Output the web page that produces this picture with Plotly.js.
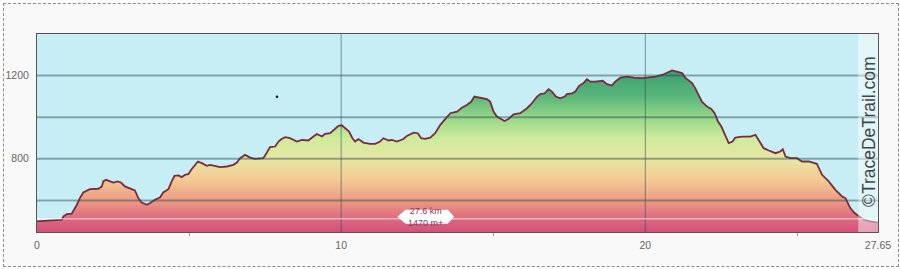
<!DOCTYPE html>
<html><head><meta charset="utf-8">
<script src="https://cdn.plot.ly/plotly-3.0.1.min.js"></script>
<style>
html,body{margin:0;padding:0;background:#fff;}
#frame{position:absolute;left:3px;top:3px;width:896px;height:264px;border:1px dashed #8a8a8a;background:#f9f9f9;box-sizing:border-box;}
#chart{position:absolute;left:0;top:0;width:900px;height:269px;}
</style></head><body>
<div id="frame"></div><div id="chart"></div>
<script>
const distanceKm = [0,0.43,0.82,0.87,0.98,1.14,1.25,1.31,1.41,1.52,1.74,2.02,2.13,2.18,2.27,2.40,2.51,2.65,2.76,2.89,3.06,3.22,3.33,3.44,3.61,3.72,3.88,4.05,4.15,4.32,4.43,4.52,4.65,4.76,4.87,4.98,5.07,5.20,5.29,5.42,5.58,5.69,5.86,6.02,6.24,6.46,6.57,6.68,6.84,7.01,7.17,7.34,7.44,7.56,7.66,7.83,7.94,8.03,8.16,8.32,8.54,8.71,8.92,9.09,9.20,9.37,9.47,9.64,9.78,9.91,10.02,10.15,10.26,10.37,10.46,10.57,10.73,10.95,11.12,11.28,11.39,11.56,11.67,11.83,12.05,12.16,12.38,12.52,12.63,12.76,12.93,13.09,13.26,13.42,13.59,13.81,13.97,14.13,14.28,14.38,14.57,14.79,14.90,15.01,15.12,15.26,15.37,15.50,15.67,15.89,16.11,16.27,16.44,16.55,16.69,16.82,16.93,17.06,17.20,17.35,17.42,17.59,17.70,17.83,17.97,18.08,18.19,18.36,18.60,18.74,18.90,19.01,19.18,19.40,19.62,19.89,20.11,20.33,20.55,20.77,20.88,21.04,21.21,21.32,21.42,21.54,21.64,21.75,21.86,22.03,22.17,22.28,22.39,22.50,22.63,22.74,22.87,22.96,23.18,23.45,23.62,23.73,23.89,24.06,24.28,24.44,24.52,24.61,24.77,24.99,25.15,25.37,25.54,25.64,25.81,26.03,26.25,26.47,26.58,26.74,26.88,27.02,27.18,27.40,27.65];
const elevationM = [499,502,507,523,534,536,563,579,611,638,654,656,667,691,699,691,686,691,686,667,659,648,611,590,579,587,603,615,638,654,691,718,720,712,723,727,747,771,787,779,766,771,766,760,763,771,782,803,819,806,800,800,803,830,856,859,883,894,904,899,883,891,888,907,919,907,920,923,939,958,961,947,931,899,883,895,878,872,872,883,899,888,891,883,895,910,926,923,899,896,902,923,963,991,1019,1027,1046,1059,1075,1099,1094,1087,1075,1027,1003,991,982,991,1014,1019,1043,1067,1099,1111,1115,1135,1123,1099,1091,1099,1111,1115,1123,1152,1164,1183,1171,1171,1175,1159,1152,1171,1190,1195,1190,1188,1190,1195,1203,1216,1225,1219,1212,1188,1177,1164,1140,1111,1075,1051,1040,1019,979,955,907,875,883,902,907,907,915,891,851,840,827,835,846,811,803,803,787,787,782,776,723,691,651,619,611,563,539,523,507,499,493];

const xTickVals = [0, 10, 20, 27.65];
const xTickText = ['0', '10', '20', '27.65'];
const xMinorTicks = [5, 15, 25];
const yTickVals = [800, 1200];
const yTickText = ['800', '1200'];
const yGridVals = [600, 800, 1000, 1200];
const xGridVals = [10, 20];
const xRange = [0, 27.65];
const yRange = [448, 1400];
const refLineM = 512;
const fadeStartKm = 27.0;
const summaryText = ['27.6 km', '1470 m+'];
const summaryPos = {km: 12.78, m: 521};
const strayKm = [7.89];
const strayM = [1098];

const gradientScale = [
  [0.00, '#d2527a'],
  [0.08, '#dc6a80'],
  [0.19, '#eb9a84'],
  [0.32, '#f3c992'],
  [0.45, '#e8e6a2'],
  [0.58, '#cdeb9c'],
  [0.71, '#94d688'],
  [0.84, '#58b67a'],
  [1.00, '#3a9e6e']
];

const traces = [
  {
    x: distanceKm, y: elevationM, type: 'scatter', mode: 'lines',
    fill: 'tozeroy',
    fillgradient: {type: 'vertical', colorscale: gradientScale, start: 450, stop: 1225},
    line: {color: '#7a2a3c', width: 1.8},
    hoverinfo: 'skip'
  },
  {
    x: strayKm, y: strayM, type: 'scatter', mode: 'markers',
    marker: {color: '#111', size: 2.5}, hoverinfo: 'skip'
  }
];

const shapes = [];
yGridVals.forEach(v => shapes.push({type: 'line', xref: 'paper', x0: 0, x1: 1, yref: 'y', y0: v, y1: v,
  line: {color: 'rgba(40,70,80,0.45)', width: 2}, layer: 'above'}));
xGridVals.forEach(v => shapes.push({type: 'line', yref: 'paper', y0: 0, y1: 1, xref: 'x', x0: v, x1: v,
  line: {color: 'rgba(40,70,80,0.55)', width: 1}, layer: 'above'}));
shapes.push({type: 'line', xref: 'paper', x0: 0, x1: 1, yref: 'y', y0: refLineM, y1: refLineM,
  line: {color: 'rgba(255,255,255,0.5)', width: 1.5}, layer: 'above'});
shapes.push({type: 'rect', xref: 'x', x0: fadeStartKm, x1: xRange[1], yref: 'paper', y0: 0, y1: 1,
  fillcolor: 'rgba(255,255,255,0.45)', line: {width: 0}, layer: 'above'});
shapes.push({type: 'path', xref: 'x', yref: 'y', xsizemode: 'pixel', ysizemode: 'pixel',
  xanchor: summaryPos.km, yanchor: summaryPos.m,
  path: 'M-28.5,0 L-20,7 L22,7 L28.5,0 L22,-7 L-20,-7 Z',
  fillcolor: '#ffffff', line: {width: 0}, layer: 'above'});

const layout = {
  width: 900, height: 269,
  margin: {l: 37, r: 22, t: 34, b: 37, pad: 0},
  paper_bgcolor: 'rgba(0,0,0,0)',
  plot_bgcolor: '#c8eef5',
  showlegend: false,
  hovermode: false,
  font: {family: 'Liberation Sans, Arial, sans-serif', size: 10.5, color: '#666'},
  xaxis: {
    range: xRange, tickmode: 'array', tickvals: xTickVals, ticktext: xTickText,
    showgrid: false, zeroline: false, showline: true, mirror: true,
    linecolor: '#555', linewidth: 1, ticks: '', ticklabelstandoff: 3,
    minor: {tickmode: 'array', tickvals: xMinorTicks, ticks: 'outside', ticklen: 3, tickcolor: '#999', showgrid: false},
    fixedrange: true
  },
  yaxis: {
    range: yRange, tickmode: 'array', tickvals: yTickVals, ticktext: yTickText,
    showgrid: false, zeroline: false, showline: true, mirror: true,
    linecolor: '#555', linewidth: 1, ticks: '', ticklabelstandoff: 5,
    fixedrange: true
  },
  shapes: shapes,
  annotations: [
    {xref: 'x', yref: 'y', x: summaryPos.km, y: summaryPos.m, text: summaryText.join('<br>'),
     showarrow: false, font: {size: 9, color: '#8b3560', family: 'Liberation Sans, Arial, sans-serif'},
     xanchor: 'center', yanchor: 'middle'},
    {xref: 'paper', yref: 'paper', x: 0.9893, y: 0.505, text: '©TraceDeTrail.com', textangle: -90,
     showarrow: false, font: {size: 17.5, color: '#444', family: 'Liberation Sans, Arial, sans-serif'},
     xanchor: 'center', yanchor: 'middle'}
  ]
};

Plotly.newPlot('chart', traces, layout, {displayModeBar: false, staticPlot: true});
</script>
</body></html>
